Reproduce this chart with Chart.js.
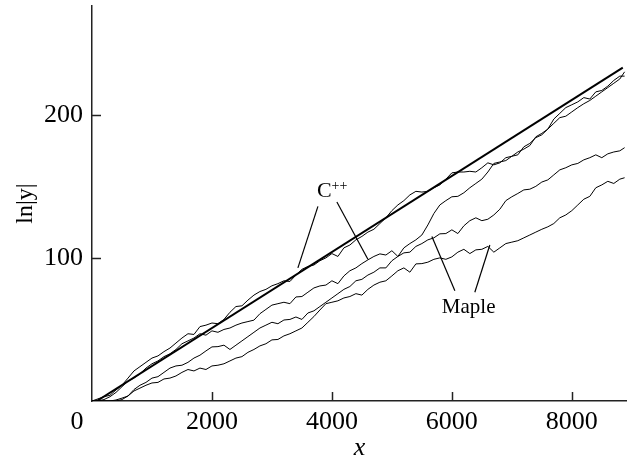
<!DOCTYPE html>
<html>
<head>
<meta charset="utf-8">
<script src="https://cdn.jsdelivr.net/npm/chart.js@4"></script>
<style>
  html, body { margin: 0; padding: 0; background: #fff; }
  #wrap { width: 627px; height: 462px; }
</style>
</head>
<body>
<div id="wrap"><canvas id="myChart" width="627" height="462"></canvas></div>
<script>
// x positions of the sampled points (shared by all four runs)
const xs = [0,100,200,300,400,500,600,700,800,900,1000,1100,1200,1300,1400,1500,1600,1700,1800,1900,
  2000,2100,2200,2300,2400,2500,2600,2700,2800,2900,3000,3100,3200,3300,3400,3500,3600,3700,3800,3900,
  4000,4100,4200,4300,4400,4500,4600,4700,4800,4900,5000,5100,5200,5300,5400,5500,5600,5700,5800,5900,
  6000,6100,6200,6300,6400,6500,6600,6700,6800,6900,7000,7100,7200,7300,7400,7500,7600,7700,7800,7900,
  8000,8100,8200,8300,8400,8500,8600,8700,8800,8880];

// C++ runs
const cppA = [0,1.5,3,4,7.7,11,16,21,24,27,30,31.5,34.5,37,40.5,44,47,46.5,52,53,
  54.5,54,57,62,66,66.5,70.5,74,76.5,78,80.5,82,84,83.5,88,92,94,95,98,100,
  103,101,107,109,112.6,115,118,120,124,128,133,137,140,144,146.5,146,146.5,149,151,155,
  159.4,160,160,160.5,160,163,166.4,165,166.4,170,171,174,176,178.5,184.6,187,190,197,201,205,
  207,209,212,211,216,217,220,224,227,227];
const cppB = [0,0,1,3,6,10,14,16,19,23,26,28,31,33,36,40,42,44,47,46,
  49,48,50,51,53,54.5,55.5,56.5,61,64,67,68,69,68,72.7,73,76,79,80.4,81,
  84,82,87.4,91,93,96,98.6,101,102.8,102,105,101,107,110,112.6,116,123,131,137,140,
  142.7,143,145.5,149,152,155,160,166,167,168,171,172,177.6,180,184,186,190,194,198,199,
  202,205,207.7,210,213,216,219,222,225,230];

// Maple runs
const mapleA = [0,0,0,0,0.7,2,3.5,8,11,13,16,17,20,23,24.5,25,27,30,32,35,
  37.8,38,39,36,39,42,45,48,51,53,55,54,56.6,57,58.7,57,61.5,63,66,69,
  72,75,78,80,84,85,88,90,93,93,98,101,103.5,104,108,110,112.6,114,116.8,117,
  119.6,117,122.4,126,128,126,127,130,134,140,142.7,145,147.5,148,150,153,154.5,158,161.5,163,
  165,166,168.5,170,172,170,172.7,174,174.8,177];
const mapleB = [0,0,0,0,0,1,3.5,7,9,11,12.6,13,15.4,16,17.5,20,22,21,23,22,
  24.5,25,26,28,30,31,34,36,38.5,40,42.7,43,45.5,47,49,51,55,59,63.6,68,
  69,70,72,73,75,74,78,81,83,84,87.4,91,93,90,95.8,96,97,99,100,99,
  100.7,104,106,103,105.6,106,108,104,107,110,111,112,114,116,118,120,121.7,124,128,130,
  133,137,141,143,149,151,153.5,152,155,156];

// reference straight line
const refX = [80, 8850];
const refY = [0, 233];

// tick labels
const xTicks = [2000, 4000, 6000, 8000];
const yTicks = [100, 200];

// leader lines for the labels (data units)
const cppLeaders = [[[3767, 136], [3433, 93]], [[4083, 139], [4600, 99]]];
const mapleLeaders = [[[6050, 77], [5667, 115]], [[6383, 76], [6633, 109]]];
const cppLabelAt = [3750, 142.7];
const mapleLabelAt = [5833, 61.5];

const FONT = '"Liberation Serif", "Times New Roman", serif';

function pts(xv, yv) {
    return xv.map((v, i) => ({ x: v, y: yv[i] }));
}

function run(yv) {
    return {
        data: pts(xs, yv),
        borderColor: '#000',
        borderWidth: 1,
        pointRadius: 0,
        showLine: true,
        tension: 0
    };
}

const leaders = cppLeaders.concat(mapleLeaders).map(seg => ({
    data: seg.map(p => ({ x: p[0], y: p[1] })),
    borderColor: '#000',
    borderWidth: 1.2,
    pointRadius: 0,
    showLine: true
}));

// inward tick marks, the lone "0" and the C++ / Maple labels
const decor = {
    id: 'decor',
    afterDraw(chart) {
        const { ctx, chartArea, scales: { x, y } } = chart;
        ctx.save();
        ctx.strokeStyle = '#222';
        ctx.lineWidth = 1.5;
        x.ticks.forEach(t => {
            const px = Math.round(x.getPixelForValue(t.value)) + 0.5;
            ctx.beginPath();
            ctx.moveTo(px, chartArea.bottom);
            ctx.lineTo(px, chartArea.bottom - 9);
            ctx.stroke();
        });
        y.ticks.forEach(t => {
            const py = Math.round(y.getPixelForValue(t.value)) + 0.5;
            ctx.beginPath();
            ctx.moveTo(chartArea.left, py);
            ctx.lineTo(chartArea.left + 9, py);
            ctx.stroke();
        });

        ctx.fillStyle = '#000';
        ctx.font = '26px ' + FONT;
        ctx.textAlign = 'center';
        ctx.textBaseline = 'middle';
        ctx.fillText('0', x.getPixelForValue(0) - 15, chartArea.bottom + 6 + 15.6);

        ctx.textAlign = 'left';
        ctx.textBaseline = 'alphabetic';
        let cx = x.getPixelForValue(cppLabelAt[0]);
        let cy = y.getPixelForValue(cppLabelAt[1]);
        ctx.font = '22px ' + FONT;
        ctx.fillText('C', cx, cy);
        const cw = ctx.measureText('C').width;
        ctx.font = '14px ' + FONT;
        ctx.fillText('++', cx + cw, cy - 7);

        ctx.font = '21px ' + FONT;
        ctx.fillText('Maple', x.getPixelForValue(mapleLabelAt[0]), y.getPixelForValue(mapleLabelAt[1]));
        ctx.restore();
    }
};

const ctx = document.getElementById('myChart').getContext('2d');

new Chart(ctx, {
    type: 'scatter',
    data: {
        datasets: [
            {
                data: pts(refX, refY),
                borderColor: '#000',
                borderWidth: 2,
                pointRadius: 0,
                showLine: true
            },
            run(cppA),
            run(cppB),
            run(mapleA),
            run(mapleB)
        ].concat(leaders)
    },
    options: {
        responsive: false,
        animation: false,
        events: [],
        layout: { padding: { top: 6, left: 0, right: 0, bottom: 0 } },
        plugins: {
            legend: { display: false },
            tooltip: { enabled: false }
        },
        scales: {
            x: {
                type: 'linear',
                min: 0,
                max: 8920,
                afterFit: s => {
                    s.height = 61;
                    s.paddingLeft = 0;
                    s.paddingRight = 0;
                },
                afterBuildTicks: s => { s.ticks = xTicks.map(v => ({ value: v })); },
                grid: { display: false, drawTicks: false },
                border: { display: true, color: '#222', width: 1.5 },
                ticks: {
                    color: '#000',
                    padding: 6,
                    maxRotation: 0,
                    font: { family: FONT, size: 26 },
                    callback: v => String(v)
                },
                title: {
                    display: true,
                    text: 'x',
                    color: '#000',
                    font: { family: FONT, size: 26, style: 'italic', lineHeight: 1 },
                    padding: { top: 0, bottom: 1 }
                }
            },
            y: {
                type: 'linear',
                min: 0,
                max: 276,
                afterFit: s => {
                    s.width = 92;
                    s.paddingTop = 0;
                    s.paddingBottom = 0;
                },
                afterBuildTicks: s => { s.ticks = yTicks.map(v => ({ value: v })); },
                grid: { display: false, drawTicks: false },
                border: { display: true, color: '#222', width: 1.5 },
                ticks: {
                    color: '#000',
                    padding: 9,
                    font: { family: FONT, size: 26 },
                    callback: v => String(v)
                },
                title: {
                    display: true,
                    text: 'ln|y|',
                    color: '#000',
                    font: { family: FONT, size: 24, lineHeight: 1.2 },
                    padding: { top: 11, bottom: 0 }
                }
            }
        }
    },
    plugins: [decor]
});
</script>
</body>
</html>
